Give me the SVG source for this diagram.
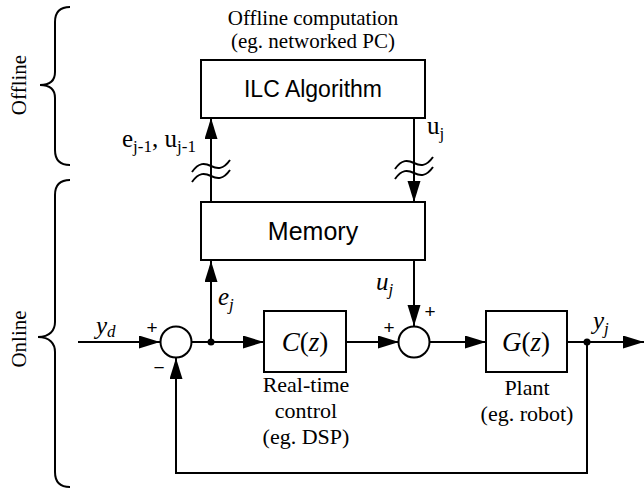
<svg xmlns="http://www.w3.org/2000/svg" width="644" height="491" viewBox="0 0 644 491">
<style>
.ln{fill:none;stroke:#000;stroke-width:2}
.box{fill:#fff;stroke:#000;stroke-width:2}
.t{font-family:"Liberation Serif","Times New Roman",serif;font-size:21px;fill:#000}
.c{font-size:22px}
.s{font-family:"Liberation Sans",Arial,sans-serif;font-size:23px;fill:#000}
.m{font-size:25px}
.f{font-size:27px}
.i{font-style:italic}
.lb{font-size:25px}
.sub{font-size:17px}
.sg{font-family:"Liberation Sans",Arial,sans-serif;font-size:19px;fill:#000}
</style>
<defs>
<marker id="ah" markerUnits="userSpaceOnUse" markerWidth="22" markerHeight="14" refX="21" refY="6.5" orient="auto">
<path d="M0,0 L21,6.5 L0,13 z" fill="#000"/>
</marker>
<path id="wave" d="M-19,6 C-12,-4 -6,-3 0,0 C6,3 12,4 19,-6" fill="none" stroke="#000" stroke-width="2"/>
</defs>

<g id="braces">
<path class="ln" d="M70,7 C60,7 55,12 55,22 L55,72 C55,80 50,85 40,85 C50,85 55,90 55,98 L55,150 C55,160 60,165 70,165" stroke-width="1.5"/>
<path class="ln" d="M70,180 C60,180 55,185 55,195 L55,322 C55,330 50,337 38,337 C50,337 55,344 55,352 L55,472 C55,482 60,487 70,487" stroke-width="1.5"/>
<text class="t" transform="translate(26,85) rotate(-90)" text-anchor="middle">Offline</text>
<text class="t" transform="translate(26,339) rotate(-90)" text-anchor="middle">Online</text>
</g>

<g id="connectors">
<line class="ln" x1="211" y1="202" x2="211" y2="118" marker-end="url(#ah)"/>
<line class="ln" x1="414" y1="118" x2="414" y2="202" marker-end="url(#ah)"/>
<line class="ln" x1="211" y1="342" x2="211" y2="261" marker-end="url(#ah)"/>
<line class="ln" x1="414" y1="261" x2="414" y2="326" marker-end="url(#ah)"/>
<line class="ln" x1="78" y1="342" x2="160" y2="342" marker-end="url(#ah)"/>
<line class="ln" x1="191" y1="342" x2="264" y2="342" marker-end="url(#ah)"/>
<line class="ln" x1="346" y1="342" x2="399" y2="342" marker-end="url(#ah)"/>
<line class="ln" x1="430" y1="342" x2="486" y2="342" marker-end="url(#ah)"/>
<line class="ln" x1="567" y1="342" x2="644" y2="342" marker-end="url(#ah)"/>
<path class="ln" d="M587,342 L587,473 L176,473 L176,358" marker-end="url(#ah)"/>
<circle cx="211" cy="342" r="3.5" fill="#000"/>
<circle cx="587" cy="342" r="3.5" fill="#000"/>
<use href="#wave" x="211" y="166"/>
<use href="#wave" x="211" y="176"/>
<use href="#wave" x="414" y="163"/>
<use href="#wave" x="414" y="173"/>
</g>

<g id="ilc">
<rect class="box" x="201" y="60" width="224" height="58"/>
<text class="s" x="313" y="97" text-anchor="middle">ILC Algorithm</text>
<text class="t" x="313" y="25" text-anchor="middle">Offline computation</text>
<text class="t" x="313" y="48" text-anchor="middle">(eg. networked PC)</text>
</g>

<g id="memory">
<rect class="box" x="201" y="202" width="224" height="58"/>
<text class="s m" x="313" y="240" text-anchor="middle">Memory</text>
</g>

<g id="sum1">
<circle class="box" cx="176" cy="342" r="15.5"/>
<text class="sg" x="152" y="334" text-anchor="middle">+</text>
<text class="sg" x="159" y="374" text-anchor="middle">−</text>
</g>

<g id="controller">
<rect class="box" x="264" y="311" width="82" height="61"/>
<text class="t i f" x="305" y="351" text-anchor="middle">C<tspan font-style="normal">(</tspan>z<tspan font-style="normal">)</tspan></text>
<text class="t c" x="306" y="392" text-anchor="middle">Real-time</text>
<text class="t c" x="306" y="418" text-anchor="middle">control</text>
<text class="t c" x="306" y="444" text-anchor="middle">(eg. DSP)</text>
</g>

<g id="sum2">
<circle class="box" cx="414" cy="342" r="15.5"/>
<text class="sg" x="389" y="334" text-anchor="middle">+</text>
<text class="sg" x="430" y="318" text-anchor="middle">+</text>
</g>

<g id="plant">
<rect class="box" x="486" y="311" width="81" height="61"/>
<text class="t i f" x="526" y="351" text-anchor="middle">G<tspan font-style="normal">(</tspan>z<tspan font-style="normal">)</tspan></text>
<text class="t c" x="527" y="395" text-anchor="middle">Plant</text>
<text class="t c" x="527" y="421" text-anchor="middle">(eg. robot)</text>
</g>

<g id="labels">
<text class="t lb" x="122" y="147">e<tspan class="sub" dy="5">j-1</tspan><tspan dy="-5">, u</tspan><tspan class="sub" dy="5">j-1</tspan></text>
<text class="t lb" x="427" y="134">u<tspan class="sub" dy="5">j</tspan></text>
<text class="t i lb" x="96" y="334">y<tspan class="sub" dy="3">d</tspan></text>
<text class="t i lb" x="218" y="305">e<tspan class="sub" dy="5">j</tspan></text>
<text class="t i lb" x="376" y="290">u<tspan class="sub" dy="5">j</tspan></text>
<text class="t i lb" x="593" y="329">y<tspan class="sub" dy="5">j</tspan></text>
</g>
</svg>
